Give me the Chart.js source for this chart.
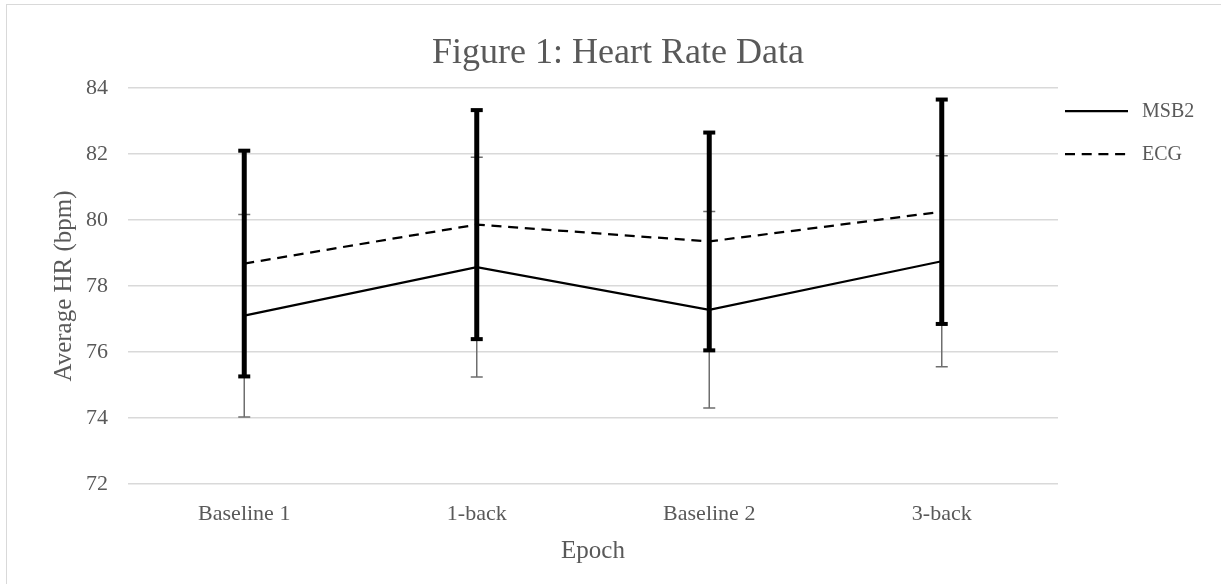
<!DOCTYPE html>
<html>
<head>
<meta charset="utf-8">
<script src="https://cdn.jsdelivr.net/npm/chart.js@4/dist/chart.umd.min.js"></script>
<style>
    html, body { margin: 0; padding: 0; background: #fff; overflow: hidden; }
    #frame {
        position: absolute; left: 6px; top: 4px;
        width: 1400px; height: 800px;
        border: 1.5px solid #d9d9d9;
    }
    #wrap { position: absolute; left: 0; top: 0; width: 1221px; height: 584px; }
</style>
</head>
<body>
<div id="frame"></div>
<div id="wrap"><canvas id="hrChart" width="1221" height="584"></canvas></div>
<script>
const epochs = ["Baseline 1", "1-back", "Baseline 2", "3-back"];
const msb2 = [77.1, 78.57, 77.28, 78.75];
const msb2Err = [3.07, 3.33, 2.98, 3.2];
const ecg = [78.68, 79.86, 79.35, 80.25];
const ecgErr = [3.42, 3.47, 3.3, 3.4];
const yTicks = [72, 74, 76, 78, 80, 82, 84];

const textColor = "#595959";
const serif = "'Liberation Serif', 'Times New Roman', serif";

// error bars: thin grey for MSB2, thick black for ECG
const errorBars = {
    id: "errorBars",
    afterDatasetsDraw(chart) {
        const { ctx, scales: { x, y } } = chart;
        const draw = (means, errs, color, width, capHalf, capH) => {
            ctx.save();
            ctx.strokeStyle = color;
            ctx.fillStyle = color;
            ctx.lineWidth = width;
            means.forEach((m, i) => {
                const px = x.getPixelForValue(i);
                const top = y.getPixelForValue(m + errs[i]);
                const bot = y.getPixelForValue(m - errs[i]);
                ctx.beginPath();
                ctx.moveTo(px, top);
                ctx.lineTo(px, bot);
                ctx.stroke();
                if (capH) {
                    ctx.fillRect(px - capHalf, top - capH / 2, capHalf * 2, capH);
                    ctx.fillRect(px - capHalf, bot - capH / 2, capHalf * 2, capH);
                } else {
                    ctx.beginPath();
                    ctx.moveTo(px - capHalf, top); ctx.lineTo(px + capHalf, top);
                    ctx.moveTo(px - capHalf, bot); ctx.lineTo(px + capHalf, bot);
                    ctx.stroke();
                }
            });
            ctx.restore();
        };
        draw(msb2, msb2Err, "#6e6e6e", 1.5, 6, 0);
        draw(ecg, ecgErr, "#000000", 5, 6, 4);
    }
};

// legend on the right, line samples like Excel
const sideLegend = {
    id: "sideLegend",
    afterDraw(chart) {
        const { ctx, chartArea } = chart;
        const x0 = chartArea.right + 7;
        const rows = [
            { label: "MSB2", dash: [], top: 23 },
            { label: "ECG", dash: [10, 6.7], top: 66 }
        ];
        ctx.save();
        rows.forEach(r => {
            const yy = chartArea.top + r.top;
            ctx.strokeStyle = "#000";
            ctx.lineWidth = 2.25;
            ctx.setLineDash(r.dash);
            ctx.beginPath();
            ctx.moveTo(x0, yy);
            ctx.lineTo(x0 + 63, yy);
            ctx.stroke();
            ctx.setLineDash([]);
            ctx.fillStyle = textColor;
            ctx.font = "20px " + serif;
            ctx.textBaseline = "middle";
            ctx.textAlign = "left";
            ctx.fillText(r.label, x0 + 77, yy + 1);
        });
        ctx.restore();
    }
};

const ctx = document.getElementById("hrChart").getContext("2d");
new Chart(ctx, {
    type: "line",
    data: {
        labels: epochs,
        datasets: [
            {
                label: "MSB2",
                data: msb2,
                borderColor: "#000",
                borderWidth: 2.25,
                pointRadius: 0,
                tension: 0,
                fill: false
            },
            {
                label: "ECG",
                data: ecg,
                borderColor: "#000",
                borderWidth: 2.25,
                borderDash: [10, 6.7],
                pointRadius: 0,
                tension: 0,
                fill: false
            }
        ]
    },
    options: {
        responsive: false,
        animation: false,
        devicePixelRatio: 1,
        layout: { padding: { left: 15, right: 0, top: 12, bottom: 0 } },
        plugins: {
            legend: { display: false },
            tooltip: { enabled: false },
            title: {
                display: true,
                text: "Figure 1: Heart Rate Data",
                color: textColor,
                font: { family: serif, size: 36, weight: "normal" },
                padding: { top: 20.4, bottom: 12.4 }
            }
        },
        scales: {
            x: {
                offset: true,
                grid: { display: false, drawTicks: false },
                border: { display: false },
                ticks: {
                    color: textColor,
                    font: { family: serif, size: 22 },
                    padding: 17
                },
                title: {
                    display: true,
                    text: "Epoch",
                    color: textColor,
                    font: { family: serif, size: 25 },
                    padding: { top: 0, bottom: 18 }
                },
                afterFit: s => { s.height = 100; }
            },
            y: {
                min: 72,
                max: 84,
                afterBuildTicks: s => { s.ticks = yTicks.map(v => ({ value: v })); },
                grid: { color: "#d9d9d9", lineWidth: 1.5, drawTicks: false },
                border: { display: false },
                ticks: {
                    color: textColor,
                    font: { family: serif, size: 22 },
                    padding: 20
                },
                title: {
                    display: true,
                    text: "Average HR (bpm)",
                    color: textColor,
                    font: { family: serif, size: 25 },
                    padding: { top: 34, bottom: 0 }
                },
                afterFit: s => { s.width = 113; }
            },
            // empty right axis only reserves room for the legend
            y2: {
                type: "linear",
                position: "right",
                display: true,
                grid: { display: false },
                border: { display: false },
                ticks: { display: false },
                afterFit: s => { s.width = 163; }
            }
        }
    },
    plugins: [errorBars, sideLegend]
});
</script>
</body>
</html>
